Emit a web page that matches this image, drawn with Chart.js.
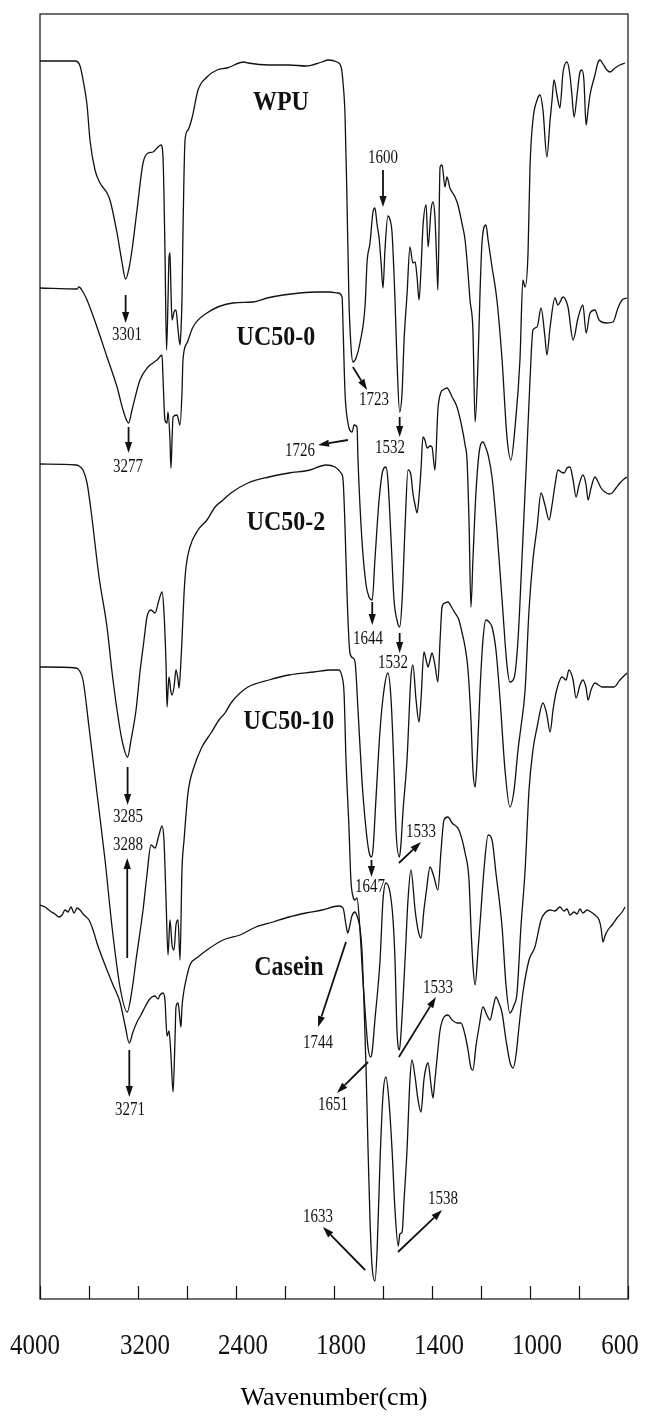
<!DOCTYPE html>
<html>
<head>
<meta charset="utf-8">
<script src="https://cdn.jsdelivr.net/npm/chart.js@4.4.0/dist/chart.umd.min.js"></script>
<style>
  html, body { margin: 0; padding: 0; background: #fff; }
  #ftir { display: block; }
</style>
</head>
<body>
<canvas id="ftir" width="647" height="1420"></canvas>
<script>
// Wavenumber axis: 4000-2000 cm-1 at 400 per division, 2000-600 cm-1 at 200 per division.
const tickWavenumbers = [4000, 3600, 3200, 2800, 2400, 2000, 1800, 1600, 1400, 1200, 1000, 800, 600];
const labelledTicks = [4000, 3200, 2400, 1800, 1400, 1000, 600];

function toDiv(w) { return w >= 2000 ? (4000 - w) / 400 : 5 + (2000 - w) / 200; }
function fromDiv(u) { return u <= 5 ? 4000 - 400 * u : 2000 - 200 * (u - 5); }

// Spectra: [wavenumber (cm-1), transmittance (a.u., stacked)]
const wpu = [
  [4000,123.8],[3714,123.8],[3673,123.3],[3641,121.4],[3616,119.4],[3592,115.9],[3551,112.9],[3510,111.6],[3453,110.6],[3429,109.9],
  [3371,106.6],[3331,103.7],[3301,102.0],[3273,103.1],[3249,104.9],[3208,108.9],[3159,113.6],[3118,114.6],[3078,114.7],[3037,115.2],
  [3012,115.4],[2996,114.2],[2980,104.9],[2967,94.9],[2955,99.9],[2947,104.1],[2939,104.6],[2931,100.9],[2922,97.9],[2906,98.7],
  [2890,98.9],[2873,96.9],[2857,95.4],[2849,96.9],[2841,99.9],[2833,106.6],[2816,115.9],[2792,116.9],[2759,118.1],[2710,120.9],
  [2637,122.2],[2555,122.9],[2473,123.1],[2335,123.7],[2302,123.6],[2131,123.4],[1984,123.4],[1914,123.3],[1849,123.7],[1824,123.9],
  [1788,123.7],[1771,123.2],[1763,121.6],[1755,118.4],[1747,109.9],[1739,99.9],[1731,95.4],[1723,93.7],[1710,94.1],[1694,95.6],
  [1673,99.4],[1665,103.7],[1653,105.6],[1641,108.7],[1633,109.1],[1624,107.4],[1616,106.1],[1608,103.7],[1600,101.1],[1592,104.9],
  [1580,108.3],[1571,107.9],[1563,106.6],[1551,99.9],[1543,93.9],[1532,88.7],[1522,90.7],[1514,95.9],[1502,100.4],[1490,105.2],
  [1478,103.6],[1469,103.7],[1461,102.2],[1453,99.9],[1445,102.9],[1437,107.2],[1424,109.4],[1416,105.2],[1404,108.9],[1396,109.7],
  [1388,108.2],[1380,103.2],[1376,100.9],[1367,113.2],[1359,113.4],[1347,111.2],[1339,112.2],[1327,111.1],[1306,110.2],[1294,109.4],
  [1278,107.6],[1265,105.9],[1253,102.6],[1245,99.9],[1233,96.9],[1224,87.7],[1212,93.9],[1204,100.6],[1196,105.6],[1180,107.4],
  [1171,105.9],[1155,103.2],[1135,99.9],[1114,93.9],[1094,86.2],[1078,83.9],[1061,87.2],[1041,93.9],[1029,101.9],[1020,101.2],
  [1008,104.6],[1000,113.2],[988,117.9],[971,119.9],[959,120.4],[947,118.9],[931,114.2],[918,117.9],[910,119.9],[902,121.9],
  [890,120.4],[878,119.1],[865,122.7],[849,123.7],[837,122.4],[829,120.4],[820,118.2],[808,120.4],[796,122.7],[788,122.9],
  [780,121.9],[771,117.4],[763,118.9],[755,120.4],[735,122.4],[722,123.7],[714,123.9],[702,123.5],[686,122.9],[673,122.7],
  [653,123.1],[633,123.4],[612,123.6]
];

const uc50_0 = [
  [4000,101.1],[3698,101.0],[3682,101.2],[3649,100.7],[3616,99.9],[3535,97.2],[3453,94.2],[3371,91.2],[3322,88.9],[3277,87.6],
  [3249,88.9],[3184,91.9],[3118,93.2],[3078,93.6],[3045,93.9],[3004,94.4],[2996,92.2],[2980,87.9],[2963,87.6],[2955,88.7],
  [2939,85.9],[2931,83.1],[2922,85.9],[2914,88.2],[2882,88.4],[2857,87.4],[2841,90.6],[2833,93.9],[2800,95.6],[2751,97.2],
  [2637,98.6],[2424,99.6],[2261,99.7],[2147,100.1],[2016,100.4],[1939,100.6],[1869,100.7],[1816,100.7],[1784,100.6],[1767,100.2],
  [1763,97.2],[1755,90.6],[1743,87.6],[1726,86.7],[1718,87.4],[1706,87.2],[1702,83.9],[1686,75.9],[1669,71.4],[1657,70.2],
  [1644,69.9],[1633,73.9],[1616,79.9],[1600,82.9],[1588,83.2],[1580,81.9],[1567,75.9],[1555,69.9],[1543,67.9],[1532,67.2],
  [1522,69.9],[1510,77.2],[1498,82.9],[1486,82.4],[1478,80.6],[1469,79.4],[1461,78.6],[1453,80.2],[1445,82.9],[1437,86.2],
  [1429,85.9],[1420,85.1],[1408,85.3],[1400,85.2],[1388,82.9],[1376,88.9],[1363,90.7],[1355,90.9],[1339,91.1],[1318,90.2],
  [1298,89.2],[1278,87.2],[1265,85.4],[1257,83.9],[1249,77.9],[1241,69.2],[1233,73.9],[1220,80.9],[1204,85.2],[1192,85.7],
  [1180,85.1],[1171,84.4],[1155,82.2],[1135,76.9],[1114,69.9],[1094,63.4],[1082,61.7],[1065,62.1],[1049,65.9],[1033,73.9],
  [1016,82.9],[1000,91.9],[988,96.9],[971,97.2],[955,99.1],[939,96.2],[931,94.4],[918,97.2],[898,100.1],[886,99.4],
  [865,100.2],[845,99.2],[824,95.9],[804,98.1],[784,99.4],[771,96.6],[755,98.6],[735,98.9],[718,97.9],[686,97.6],
  [661,97.7],[641,99.1],[624,99.9],[604,100.1]
];

const uc50_2 = [
  [4000,83.5],[3706,83.4],[3682,83.3],[3649,82.9],[3616,81.6],[3584,78.9],[3518,72.2],[3453,67.2],[3412,62.7],[3371,58.9],
  [3331,55.9],[3285,54.2],[3257,55.9],[3216,58.9],[3184,62.7],[3151,65.9],[3127,68.2],[3094,68.9],[3061,68.6],[3029,69.9],
  [3004,70.7],[2988,68.7],[2971,63.4],[2963,59.2],[2955,60.9],[2947,62.2],[2931,60.7],[2922,60.4],[2906,61.2],[2890,62.9],
  [2873,61.9],[2865,61.1],[2849,63.9],[2841,65.9],[2824,70.6],[2808,73.2],[2776,75.2],[2710,76.9],[2637,77.9],[2571,79.2],
  [2506,79.9],[2441,80.6],[2302,81.6],[2131,82.2],[1984,82.6],[1898,82.9],[1833,83.4],[1796,83.2],[1771,82.6],[1763,81.9],
  [1755,77.2],[1747,70.6],[1735,64.6],[1722,64.1],[1714,63.7],[1702,58.9],[1686,51.9],[1669,46.9],[1657,44.7],[1647,44.2],
  [1641,44.9],[1629,49.9],[1612,56.9],[1596,60.9],[1580,62.6],[1567,59.9],[1555,52.9],[1547,46.9],[1533,44.2],[1527,45.4],
  [1518,48.9],[1502,53.9],[1486,62.2],[1478,63.4],[1465,59.9],[1453,57.7],[1445,59.9],[1433,64.7],[1424,63.9],[1416,63.2],
  [1408,63.9],[1400,64.6],[1388,63.4],[1376,61.7],[1367,65.9],[1359,69.2],[1347,69.6],[1335,69.7],[1318,69.1],[1306,68.6],
  [1290,67.9],[1278,66.7],[1265,65.2],[1253,62.9],[1241,57.9],[1233,52.9],[1224,51.2],[1216,53.9],[1204,60.9],[1192,65.9],
  [1180,67.9],[1167,67.7],[1155,67.2],[1139,64.9],[1122,59.9],[1102,52.9],[1082,49.2],[1065,50.9],[1049,54.9],[1037,57.2],
  [1020,60.9],[1004,68.9],[988,73.9],[971,77.2],[955,80.6],[939,79.4],[922,77.9],[910,79.4],[898,81.4],[886,82.9],
  [873,82.7],[861,82.6],[849,83.1],[837,83.2],[824,81.9],[812,80.2],[800,81.4],[784,82.4],[771,81.4],[763,79.9],
  [751,81.1],[735,82.2],[722,81.7],[710,81.1],[694,80.7],[678,80.5],[665,80.6],[649,81.1],[633,81.6],[616,82.0],
  [604,82.2]
];

const uc50_10 = [
  [4000,63.2],[3706,63.1],[3682,62.9],[3649,61.9],[3600,57.2],[3535,50.6],[3469,43.9],[3412,37.2],[3347,31.2],[3288,28.7],
  [3249,30.9],[3216,33.9],[3159,38.9],[3127,42.4],[3094,45.4],[3061,45.1],[3029,46.4],[3004,47.3],[2988,45.9],[2971,39.9],
  [2955,34.4],[2939,37.9],[2922,35.4],[2906,34.9],[2890,37.4],[2873,37.9],[2857,33.9],[2841,42.9],[2824,45.9],[2792,50.6],
  [2743,53.2],[2678,55.2],[2604,56.6],[2539,57.9],[2490,58.6],[2441,59.6],[2367,60.6],[2302,61.2],[2131,61.9],[1984,62.4],
  [1882,62.7],[1812,62.9],[1780,62.9],[1767,62.2],[1759,60.6],[1751,53.9],[1739,47.2],[1731,41.9],[1722,40.2],[1714,39.9],
  [1706,40.1],[1694,36.9],[1682,31.9],[1669,27.4],[1661,25.1],[1651,24.2],[1645,24.6],[1633,27.9],[1612,33.9],[1600,39.9],
  [1588,41.6],[1571,40.6],[1559,37.9],[1551,33.9],[1543,26.9],[1533,24.9],[1527,26.4],[1510,33.9],[1498,39.9],[1486,42.9],
  [1469,38.9],[1457,36.9],[1445,36.1],[1433,38.9],[1424,40.6],[1408,43.2],[1392,42.2],[1376,40.9],[1363,44.9],[1351,47.9],
  [1335,48.2],[1318,47.6],[1290,46.9],[1265,44.6],[1249,41.9],[1241,37.2],[1233,33.4],[1224,31.4],[1212,34.9],[1200,38.9],
  [1188,42.9],[1171,46.4],[1155,45.9],[1139,42.6],[1114,37.2],[1098,31.4],[1082,28.6],[1065,29.4],[1053,30.6],[1037,37.2],
  [1020,42.9],[1004,50.9],[988,54.9],[971,57.2],[947,59.6],[931,58.4],[918,56.7],[906,58.9],[894,60.6],[869,62.2],
  [853,61.9],[841,62.9],[824,61.9],[812,60.1],[796,61.4],[784,61.9],[771,61.1],[763,59.9],[751,60.9],[735,61.6],
  [706,61.2],[686,61.2],[657,61.2],[633,61.9],[604,62.6]
];

const casein = [
  [4000,39.4],[3959,39.2],[3918,38.8],[3878,38.5],[3845,38.2],[3820,38.4],[3796,38.9],[3771,38.7],[3747,39.2],[3722,38.6],
  [3698,39.1],[3673,38.9],[3641,38.4],[3600,37.9],[3567,36.9],[3535,35.6],[3494,34.2],[3453,32.9],[3404,31.4],[3347,29.7],
  [3306,27.4],[3271,25.6],[3241,26.7],[3208,27.7],[3176,28.4],[3143,29.2],[3110,29.9],[3086,30.2],[3061,30.3],[3037,30.0],
  [3020,30.4],[2996,30.6],[2980,29.9],[2963,26.3],[2947,26.8],[2931,24.4],[2914,20.7],[2898,25.9],[2890,29.2],[2873,29.6],
  [2857,27.9],[2849,27.2],[2841,29.2],[2824,30.9],[2808,31.9],[2776,33.4],[2710,34.2],[2637,34.9],[2506,35.9],[2367,36.4],
  [2237,37.2],[2098,37.7],[1984,38.2],[1914,38.6],[1849,38.9],[1780,39.3],[1763,39.1],[1751,37.4],[1744,36.6],[1735,37.4],
  [1727,38.3],[1714,38.7],[1706,38.3],[1694,37.1],[1686,34.9],[1678,29.9],[1669,22.9],[1661,14.9],[1653,7.9],[1645,3.4],
  [1633,1.8],[1624,4.9],[1612,13.9],[1600,20.4],[1588,22.2],[1576,19.9],[1563,14.9],[1551,8.9],[1538,5.3],[1531,6.5],
  [1522,6.7],[1514,9.9],[1502,14.9],[1490,21.9],[1482,23.9],[1469,22.2],[1457,19.9],[1445,18.7],[1433,21.9],[1424,23.2],
  [1416,23.6],[1404,21.4],[1396,20.1],[1388,21.9],[1380,23.9],[1367,26.9],[1351,28.2],[1335,28.4],[1318,27.9],[1298,27.6],
  [1282,27.6],[1265,26.4],[1253,24.9],[1241,23.1],[1233,22.9],[1220,25.4],[1208,27.2],[1192,29.2],[1176,28.4],[1163,27.9],
  [1151,29.1],[1139,30.2],[1127,29.6],[1114,28.6],[1098,25.9],[1082,23.7],[1069,23.1],[1057,24.4],[1045,27.2],[1029,30.6],
  [1004,33.9],[980,35.2],[955,37.9],[939,38.6],[918,38.9],[898,38.8],[878,39.2],[861,38.8],[849,39.0],[837,38.4],
  [820,38.7],[808,38.5],[796,39.0],[784,38.6],[767,38.9],[751,38.7],[735,38.4],[718,37.9],[710,37.1],[702,35.7],
  [694,36.3],[682,36.9],[665,37.4],[645,38.1],[624,38.7],[612,39.2]
];

const spectra = [
  { name: 'WPU', points: wpu },
  { name: 'UC50-0', points: uc50_0 },
  { name: 'UC50-2', points: uc50_2 },
  { name: 'UC50-10', points: uc50_10 },
  { name: 'Casein', points: casein }
];

// Sample names, anchored in (wavenumber, transmittance)
const sampleNames = [
  { text: 'WPU',     at: [2033, 119.6] },
  { text: 'UC50-0',  at: [2074, 96.1] },
  { text: 'UC50-2',  at: [1996, 77.6] },
  { text: 'UC50-10', at: [1984, 57.7] },
  { text: 'Casein',  at: [1984, 33.1] }
];

// Band assignments: label centre, arrow tail and arrow tip
const bandNotes = [
  { text: '1600', at: [1600, 114.1], from: [1600, 112.9], to: [1600, 109.2] },
  { text: '3301', at: [3290, 96.4],  from: [3301, 100.4], to: [3301, 97.6] },
  { text: '1723', at: [1637, 89.9],  from: [1723, 93.2],  to: [1665, 90.9] },
  { text: '1726', at: [1939, 84.8],  from: [1743, 85.9],  to: [1865, 85.4] },
  { text: '1532', at: [1571, 85.1],  from: [1532, 88.2],  to: [1532, 86.2] },
  { text: '3277', at: [3282, 83.2],  from: [3277, 87.2],  to: [3277, 84.6] },
  { text: '1644', at: [1661, 66.0],  from: [1644, 69.7],  to: [1644, 67.4] },
  { text: '1532', at: [1559, 63.6],  from: [1532, 66.6],  to: [1532, 64.6] },
  { text: '3285', at: [3282, 48.2],  from: [3285, 53.2],  to: [3285, 49.4] },
  { text: '1533', at: [1445, 46.7],  from: [1535, 43.6],  to: [1445, 45.7] },
  { text: '3288', at: [3282, 45.4],  from: [3288, 34.1],  to: [3288, 44.1] },
  { text: '1647', at: [1653, 41.2],  from: [1647, 43.9],  to: [1647, 42.2] },
  { text: '1744', at: [1865, 25.6],  from: [1751, 35.7],  to: [1865, 27.2] },
  { text: '1533', at: [1376, 31.1],  from: [1535, 24.2],  to: [1384, 30.2] },
  { text: '1651', at: [1804, 19.4],  from: [1661, 23.7],  to: [1788, 20.6] },
  { text: '3271', at: [3265, 18.9],  from: [3271, 24.9],  to: [3271, 20.2] },
  { text: '1633', at: [1865, 8.2],   from: [1673, 2.9],   to: [1845, 7.2] },
  { text: '1538', at: [1355, 10.0],  from: [1539, 4.7],   to: [1359, 8.9] }
];

const INK = '#111';
const SERIF = "'Liberation Serif', 'Times New Roman', serif";

// horizontal nudge of the axis numbers (px); the end numbers sit inside the frame corners
function tickLabelNudge(w) {
  if (w === 4000) return -5;
  if (w === 600) return -8;
  return 7;
}

function stretchedText(ctx, text, x, y, font, sy) {
  ctx.save();
  ctx.translate(x, y);
  ctx.scale(1, sy);
  ctx.font = font;
  ctx.textAlign = 'center';
  ctx.textBaseline = 'middle';
  ctx.fillText(text, 0, 0);
  ctx.restore();
}

function arrow(ctx, x1, y1, x2, y2) {
  const ang = Math.atan2(y2 - y1, x2 - x1);
  const head = 11, half = 3.6;
  const bx = x2 - head * Math.cos(ang), by = y2 - head * Math.sin(ang);
  ctx.beginPath();
  ctx.moveTo(x1, y1);
  ctx.lineTo(bx, by);
  ctx.lineWidth = 1.8;
  ctx.stroke();
  ctx.beginPath();
  ctx.moveTo(x2, y2);
  ctx.lineTo(bx + half * Math.sin(ang), by - half * Math.cos(ang));
  ctx.lineTo(bx - half * Math.sin(ang), by + half * Math.cos(ang));
  ctx.closePath();
  ctx.fill();
}

const frameAndNotes = {
  id: 'frameAndNotes',
  afterDatasetsDraw(chart) {
    const { ctx, chartArea: a, scales: { x, y } } = chart;
    const px = w => x.getPixelForValue(toDiv(w));
    const py = t => y.getPixelForValue(t);
    ctx.save();
    ctx.strokeStyle = INK;
    ctx.fillStyle = INK;

    // plot frame
    ctx.lineWidth = 1.2;
    ctx.strokeRect(a.left, a.top, a.right - a.left, a.bottom - a.top);

    // inward tick marks on the wavenumber axis
    x.ticks.forEach(t => {
      const xx = Math.round(x.getPixelForValue(t.value)) + 0.5;
      ctx.beginPath();
      ctx.moveTo(xx, a.bottom);
      ctx.lineTo(xx, a.bottom - 13);
      ctx.stroke();
    });

    // axis numbers
    labelledTicks.forEach(w => {
      stretchedText(ctx, String(w), px(w) + tickLabelNudge(w), a.bottom + 47, '25px ' + SERIF, 1.22);
    });

    // sample names
    sampleNames.forEach(s => {
      stretchedText(ctx, s.text, px(s.at[0]), py(s.at[1]), 'bold 24px ' + SERIF, 1.15);
    });

    // band labels with arrows
    bandNotes.forEach(n => {
      stretchedText(ctx, n.text, px(n.at[0]), py(n.at[1]), '15px ' + SERIF, 1.2);
      arrow(ctx, px(n.from[0]), py(n.from[1]), px(n.to[0]), py(n.to[1]));
    });
    ctx.restore();
  }
};

new Chart(document.getElementById('ftir'), {
  type: 'line',
  data: {
    datasets: spectra.map(s => ({
      label: s.name,
      data: s.points.map(([w, t]) => ({ x: toDiv(w), y: t })),
      borderColor: INK,
      borderWidth: 1.3,
      pointRadius: 0,
      fill: false,
      cubicInterpolationMode: 'monotone'
    }))
  },
  options: {
    responsive: false,
    animation: false,
    devicePixelRatio: 1,
    layout: { padding: { left: 40, right: 19, top: 14, bottom: 0 } },
    plugins: { legend: { display: false }, tooltip: { enabled: false } },
    scales: {
      x: {
        type: 'linear',
        position: 'bottom',
        min: 0,
        max: tickWavenumbers.length - 1,
        grid: { display: false },
        border: { display: false },
        afterBuildTicks: scale => {
          scale.ticks = tickWavenumbers.map(w => ({ value: toDiv(w) }));
        },
        afterFit: scale => {
          scale.height = 121;
          scale.paddingLeft = 0;
          scale.paddingRight = 0;
        },
        ticks: { display: false },
        title: {
          display: true,
          text: 'Wavenumber(cm)',
          color: '#000',
          font: { family: SERIF, size: 26 },
          padding: { top: 0, bottom: 6 }
        }
      },
      y: {
        display: false,
        min: 0,
        max: 128.5
      }
    }
  },
  plugins: [frameAndNotes]
});
</script>
</body>
</html>
